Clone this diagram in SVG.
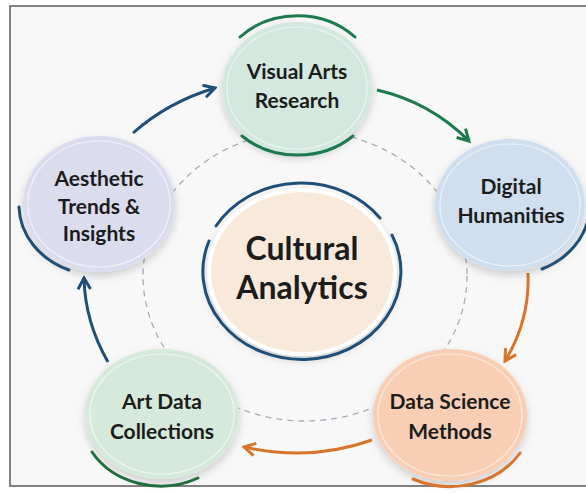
<svg xmlns="http://www.w3.org/2000/svg" width="586" height="495" viewBox="0 0 586 495">
<defs>
<filter id="sh" x="-20%" y="-20%" width="140%" height="150%"><feDropShadow dx="0" dy="4" stdDeviation="4" flood-color="#000" flood-opacity="0.18"/></filter>
<marker id="hNavy" viewBox="0 0 12 12" refX="10" refY="6" markerWidth="15" markerHeight="15" markerUnits="userSpaceOnUse" orient="auto"><path d="M1,1 L10,6 L1,11" fill="none" stroke="#1f4e79" stroke-width="2.4"/></marker>
<marker id="hGreen" viewBox="0 0 12 12" refX="10" refY="6" markerWidth="15" markerHeight="15" markerUnits="userSpaceOnUse" orient="auto"><path d="M1,1 L10,6 L1,11" fill="none" stroke="#1e7a4e" stroke-width="2.4"/></marker>
<marker id="hOrange" viewBox="0 0 12 12" refX="10" refY="6" markerWidth="15" markerHeight="15" markerUnits="userSpaceOnUse" orient="auto"><path d="M1,1 L10,6 L1,11" fill="none" stroke="#d8742c" stroke-width="2.4"/></marker>
</defs>
<style>
.t{font-family:Lato,"Open Sans","Liberation Sans",sans-serif;font-weight:700;fill:#1c1c1c;text-anchor:middle}
.n{font-size:21px}
.c{font-size:32px}
.inner{fill:none;stroke:#ffffff;stroke-opacity:0.6;stroke-width:1.2}
.arc{fill:none;stroke-width:3;stroke-linecap:round}
.con{fill:none;stroke-width:3}
</style>
<rect x="0" y="0" width="586" height="495" fill="#ffffff"/>
<rect x="10" y="6" width="600" height="480" fill="#f8f8f8" stroke="#5a5a5a" stroke-width="1.5"/>
<ellipse cx="305" cy="276" rx="162" ry="145" fill="none" stroke="#a3adba" stroke-width="1.3" stroke-dasharray="6 5"/>

<g id="center">
<ellipse cx="302" cy="272" rx="95" ry="84" fill="#ffffff" filter="url(#sh)"/>
<ellipse cx="302" cy="272" rx="91" ry="80" fill="#f9e9da"/>
<path d="M216,226 A99,88 0 0 1 380,218" class="arc" stroke="#1f4e79" stroke-width="2.5"/>
<path d="M392,235 A99,88 0 1 1 209,241" class="arc" stroke="#1f4e79" stroke-width="2.5"/>
<text class="t c" x="302" y="260">Cultural</text>
<text class="t c" x="302" y="299">Analytics</text>
</g>

<g id="connectors">
<path d="M133,133 Q168,102 215,88" class="con" stroke="#1f4e79" marker-end="url(#hNavy)"/>
<path d="M377,90 Q430,102 469,141" class="con" stroke="#1e7a4e" marker-end="url(#hGreen)"/>
<path d="M528,273 Q530,320 505,361" class="con" stroke="#d8742c" marker-end="url(#hOrange)"/>
<path d="M372,440 Q310,462 244,447" class="con" stroke="#d8742c" marker-end="url(#hOrange)"/>
<path d="M108,362 Q85,322 84,278" class="con" stroke="#1f4e79" marker-end="url(#hNavy)"/>
</g>

<g id="visual-arts">
<ellipse cx="297" cy="88" rx="75" ry="66" fill="#d3e8df" filter="url(#sh)"/>
<ellipse cx="297" cy="88" rx="70" ry="61" class="inner"/>
<path d="M240,37 A81,72 0 0 1 355,37" class="arc" stroke="#1e7a4e"/>
<path d="M242,136 A80,68 0 0 0 353,136" class="arc" stroke="#1e7a4e"/>
<text class="t n" x="297" y="79">Visual Arts</text>
<text class="t n" x="297" y="108">Research</text>
</g>

<g id="digital-humanities">
<ellipse cx="510" cy="205" rx="75" ry="66" fill="#cfdff0" filter="url(#sh)"/>
<ellipse cx="510" cy="205" rx="70" ry="61" class="inner"/>
<path d="M589,215 A80,70 0 0 1 542,269" class="arc" stroke="#1f4e79"/>
<text class="t n" x="511" y="194">Digital</text>
<text class="t n" x="511" y="223">Humanities</text>
</g>

<g id="data-science">
<ellipse cx="450" cy="415" rx="77" ry="66" fill="#f8cfb4" filter="url(#sh)"/>
<ellipse cx="450" cy="415" rx="72" ry="61" class="inner"/>
<path d="M520,453 A82,70 0 0 1 413,479" class="arc" stroke="#d8742c"/>
<text class="t n" x="450" y="409">Data Science</text>
<text class="t n" x="450" y="439">Methods</text>
</g>

<g id="art-data">
<ellipse cx="162" cy="414" rx="77" ry="65" fill="#d6eadb" filter="url(#sh)"/>
<ellipse cx="162" cy="414" rx="72" ry="60" class="inner"/>
<path d="M198,478 A80,70 0 0 1 92,452" class="arc" stroke="#1e6e3e"/>
<text class="t n" x="162" y="409">Art Data</text>
<text class="t n" x="162" y="439">Collections</text>
</g>

<g id="aesthetic">
<ellipse cx="99" cy="204" rx="76" ry="68" fill="#dcdcef" filter="url(#sh)"/>
<ellipse cx="99" cy="204" rx="71" ry="63" class="inner"/>
<path d="M69,270 A80,70 0 0 1 19,207" class="arc" stroke="#1f4e79"/>
<text class="t n" x="99" y="186">Aesthetic</text>
<text class="t n" x="99" y="214">Trends &amp;</text>
<text class="t n" x="99" y="241">Insights</text>
</g>
</svg>
